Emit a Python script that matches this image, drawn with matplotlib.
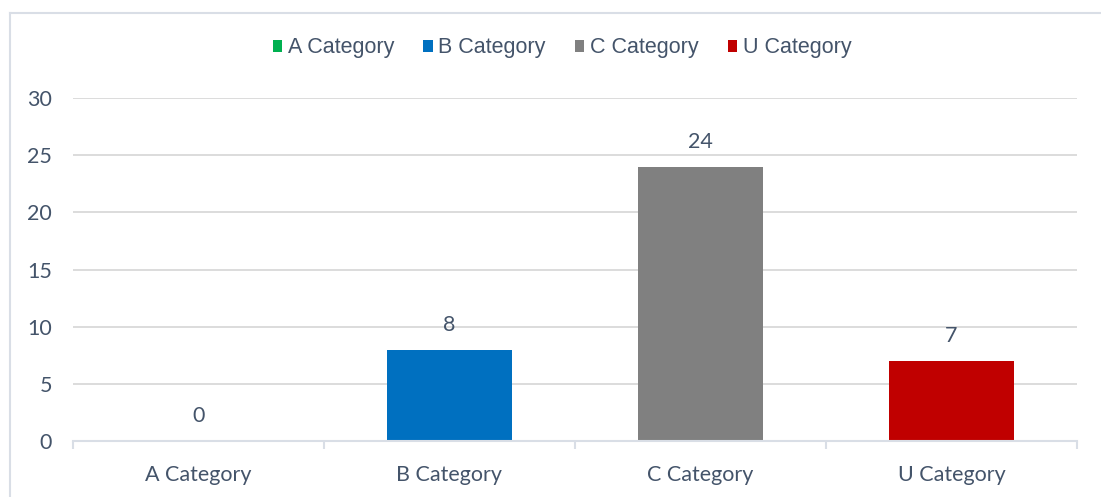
import matplotlib
matplotlib.use("Agg")
import matplotlib.pyplot as plt
from matplotlib.patches import Patch
from matplotlib.lines import Line2D

categories = ["A Category", "B Category", "C Category", "U Category"]
values = [0, 8, 24, 7]
colors = ["#00B050", "#0070C0", "#808080", "#C00000"]
yticks = [0, 5, 10, 15, 20, 25, 30]

TEXT = "#44546A"
W, H = 1101, 497
fig = plt.figure(figsize=(W / 100, H / 100), dpi=100)
fig.patch.set_facecolor("white")

# outer chart border (only left and top visible)
fig.add_artist(Line2D([9.5 / W, 9.5 / W], [0, 1 - 12.5 / H], transform=fig.transFigure,
                      color="#D9DEE6", lw=1.5))
fig.add_artist(Line2D([9.5 / W, 1], [1 - 12.5 / H, 1 - 12.5 / H], transform=fig.transFigure,
                      color="#D9DEE6", lw=1.5))

left, right = 73 / W, 1077 / W
bottom, top = 1 - 441 / H, 1 - 98 / H
ax = fig.add_axes([left, bottom, right - left, top - bottom])

x = list(range(len(categories)))
bars = ax.bar(x, values, width=0.5, color=colors, zorder=3)
ax.set_xlim(-0.5, len(categories) - 0.5)
ax.set_ylim(0, 30)
ax.set_yticks(yticks)
ax.set_yticklabels([str(t) for t in yticks], fontsize=15.5, color=TEXT, family="Lato")
ax.tick_params(axis="y", length=0, pad=15)
ax.yaxis.grid(True, color="#D9D9D9", lw=1.3, zorder=0)
ax.set_axisbelow(True)

ax.set_xticks(x)
ax.set_xticklabels(categories, fontsize=15.5, color=TEXT, family="Lato")
ax.tick_params(axis="x", length=0, pad=17)
# minor ticks between categories
ax.set_xticks([i - 0.5 for i in range(len(categories) + 1)], minor=True)
ax.tick_params(axis="x", which="minor", length=6, width=1.5, color="#D9DEE6", direction="out")

for s in ["top", "right", "left"]:
    ax.spines[s].set_visible(False)
ax.spines["bottom"].set_color("#D9DEE6")
ax.spines["bottom"].set_linewidth(1.5)
ax.spines["bottom"].set_zorder(4)

for xi, v in zip(x, values):
    ax.annotate(str(v), (xi, v), xytext=(0, 18), textcoords="offset points",
                ha="center", va="center", fontsize=15.5, color=TEXT, family="Lato")

handles = [Patch(facecolor=c, edgecolor="none") for c in colors]
leg = fig.legend(handles, categories, loc="center", bbox_to_anchor=(562 / W, 1 - 48 / H),
                 ncol=4, frameon=False, handlelength=0.45, handleheight=0.45,
                 handletextpad=0.25, columnspacing=1.35,
                 prop={"family": "Liberation Sans", "size": 15.5})
for t in leg.get_texts():
    t.set_color(TEXT)

fig.savefig("out.png", dpi=100, facecolor="white")
